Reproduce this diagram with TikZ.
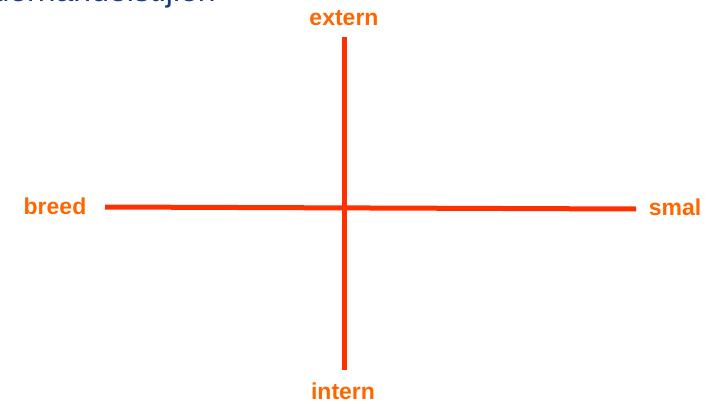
\documentclass[tikz,border=0pt]{standalone}
\usepackage{fontspec}
\setmainfont{Liberation Sans}
\usetikzlibrary{positioning}
\definecolor{axisred}{RGB}{255,48,0}
\definecolor{labelorange}{RGB}{255,102,0}
\definecolor{titleblue}{RGB}{16,64,140}

\begin{document}
\begin{tikzpicture}[x=1pt, y=-1pt,
    axisline/.style={draw=axisred, line width=5pt},
    poollabel/.style={text=labelorange, font=\fontsize{23}{27}\selectfont\bfseries, inner sep=0pt},
]
    \useasboundingbox (0,0) rectangle (715,404);

    % Title, cut off by the top edge
    \node[anchor=base east, text=titleblue, font=\fontsize{32}{38}\selectfont, inner sep=0pt]
        (title) at (216,2) {Onderhandelstijlen};

    % Axis end points
    \coordinate (top) at (344,37);
    \coordinate (bottom) at (344,370);
    \coordinate (left) at (105,207);
    \coordinate (right) at (636,209);

    % Axes
    \draw[axisline] (left) -- (right);
    \draw[axisline] (top) -- (bottom);

    % Labels at the ends
    \node[poollabel] (extern) at (344,18) {extern};
    \node[poollabel] (intern) at (343,391) {intern};
    \node[poollabel] (breed) at (55,206) {breed};
    \node[poollabel] (smal) at (675,207) {smal};
\end{tikzpicture}
\end{document}
